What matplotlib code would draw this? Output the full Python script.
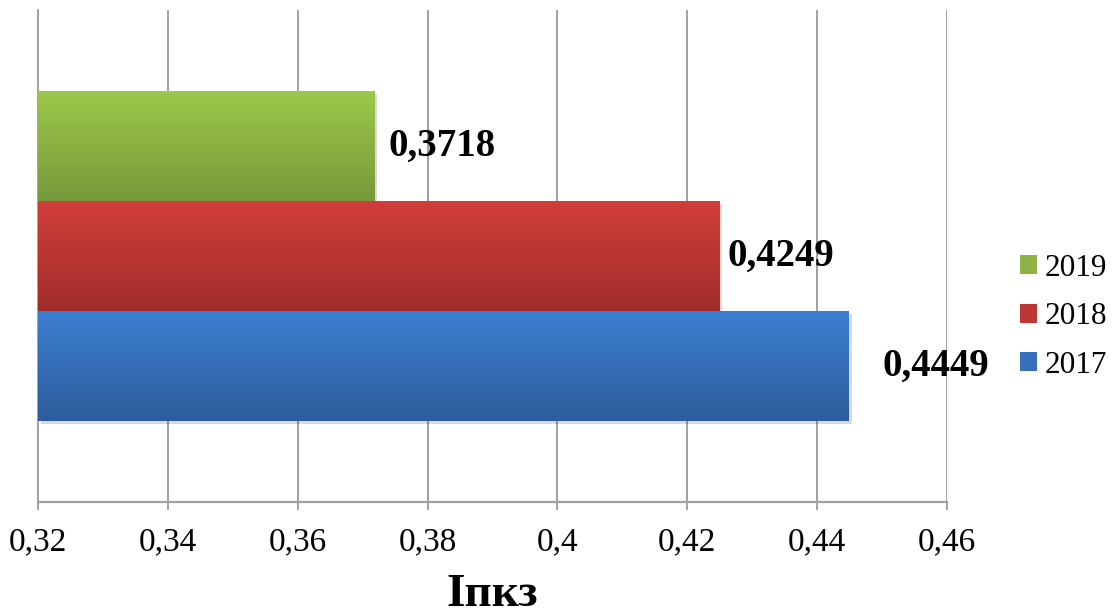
import matplotlib
matplotlib.use("Agg")
import matplotlib.pyplot as plt
import numpy as np
from matplotlib.patches import Patch
from matplotlib.ticker import FuncFormatter, MultipleLocator
import matplotlib.patheffects as pe
from matplotlib.colors import LinearSegmentedColormap

plt.rcParams['font.family'] = ['Liberation Serif', 'DejaVu Serif']

# Data
years = ["2017", "2018", "2019"]
values = [0.4449, 0.4249, 0.3718]
xlabel = "Iпкз"
x_min, x_max, x_step = 0.32, 0.46, 0.02

# Styles
top_colors = ["#3C7FD1", "#D13E3B", "#9EC84B"]
bot_colors = ["#2C5C9C", "#A12D2B", "#76993A"]
mid_colors = ["#3670BA", "#BE3735", "#8CB343"]
label_offsets_px = [34, 8, 14]

fig = plt.figure(figsize=(11.14, 6.14), dpi=100)
ax = fig.add_axes([0.0341, 0.1824, 0.816, 0.8013])

bar_h = 0.2236
positions = [-bar_h, 0.0, bar_h]
bars = []
for i, (yr, v) in enumerate(zip(years, values)):
    b = ax.barh(positions[i], v - x_min, left=x_min, height=bar_h,
                color=mid_colors[i], zorder=3,
                path_effects=[pe.SimplePatchShadow(offset=(2, -2), alpha=0.15, shadow_rgbFace='#000000'), pe.Normal()])
    bars.append(b[0])

# gradient overlay
grad = np.linspace(0, 1, 256).reshape(-1, 1)
for i, p in enumerate(bars):
    cmap = LinearSegmentedColormap.from_list(f"g{i}", [top_colors[i], bot_colors[i]])
    x0, y0, w, h = p.get_x(), p.get_y(), p.get_width(), p.get_height()
    im = ax.imshow(grad, cmap=cmap, aspect='auto',
                   extent=(x0, x0 + w, y0, y0 + h), origin='upper', zorder=4)
    im.set_clip_path(p)

# value labels
for i, p in enumerate(bars):
    v = values[i]
    ax.annotate(f"{v:.4f}".replace('.', ','),
                xy=(p.get_x() + p.get_width(), p.get_y() + p.get_height() / 2),
                xytext=(label_offsets_px[i] * 0.72, 0), textcoords='offset points',
                ha='left', va='center', fontsize=28, fontweight='bold', zorder=5)

ax.set_xlim(x_min, x_max)
ax.set_ylim(-0.5, 0.5)
ax.xaxis.set_major_locator(MultipleLocator(x_step))
ax.xaxis.set_major_formatter(FuncFormatter(lambda x, pos: f"{round(x, 4):g}".replace('.', ',')))
ax.set_yticks([])

grid_c = '#A0A0A0'
ax.grid(axis='x', color=grid_c, linewidth=1.4, zorder=0)
ax.set_axisbelow(True)
for s in ['top', 'right']:
    ax.spines[s].set_visible(False)
ax.spines['left'].set_color(grid_c)
ax.spines['left'].set_linewidth(1.4)
ax.spines['bottom'].set_color(grid_c)
ax.spines['bottom'].set_linewidth(1.6)
ax.tick_params(axis='x', direction='out', length=6, width=1.4, color=grid_c,
               labelsize=24, pad=12)

ax.set_xlabel(xlabel, fontsize=34, fontweight='bold', labelpad=12)

handles = [Patch(facecolor=mid_colors[i], label=years[i]) for i in range(3)][::-1]
leg = fig.legend(handles=handles, loc='center left', bbox_to_anchor=(0.904, 0.484),
                 frameon=False, fontsize=22.5, handlelength=0.55, handleheight=0.55,
                 handletextpad=0.25, labelspacing=0.62, borderaxespad=0)

fig.savefig("out.png", dpi=100)
